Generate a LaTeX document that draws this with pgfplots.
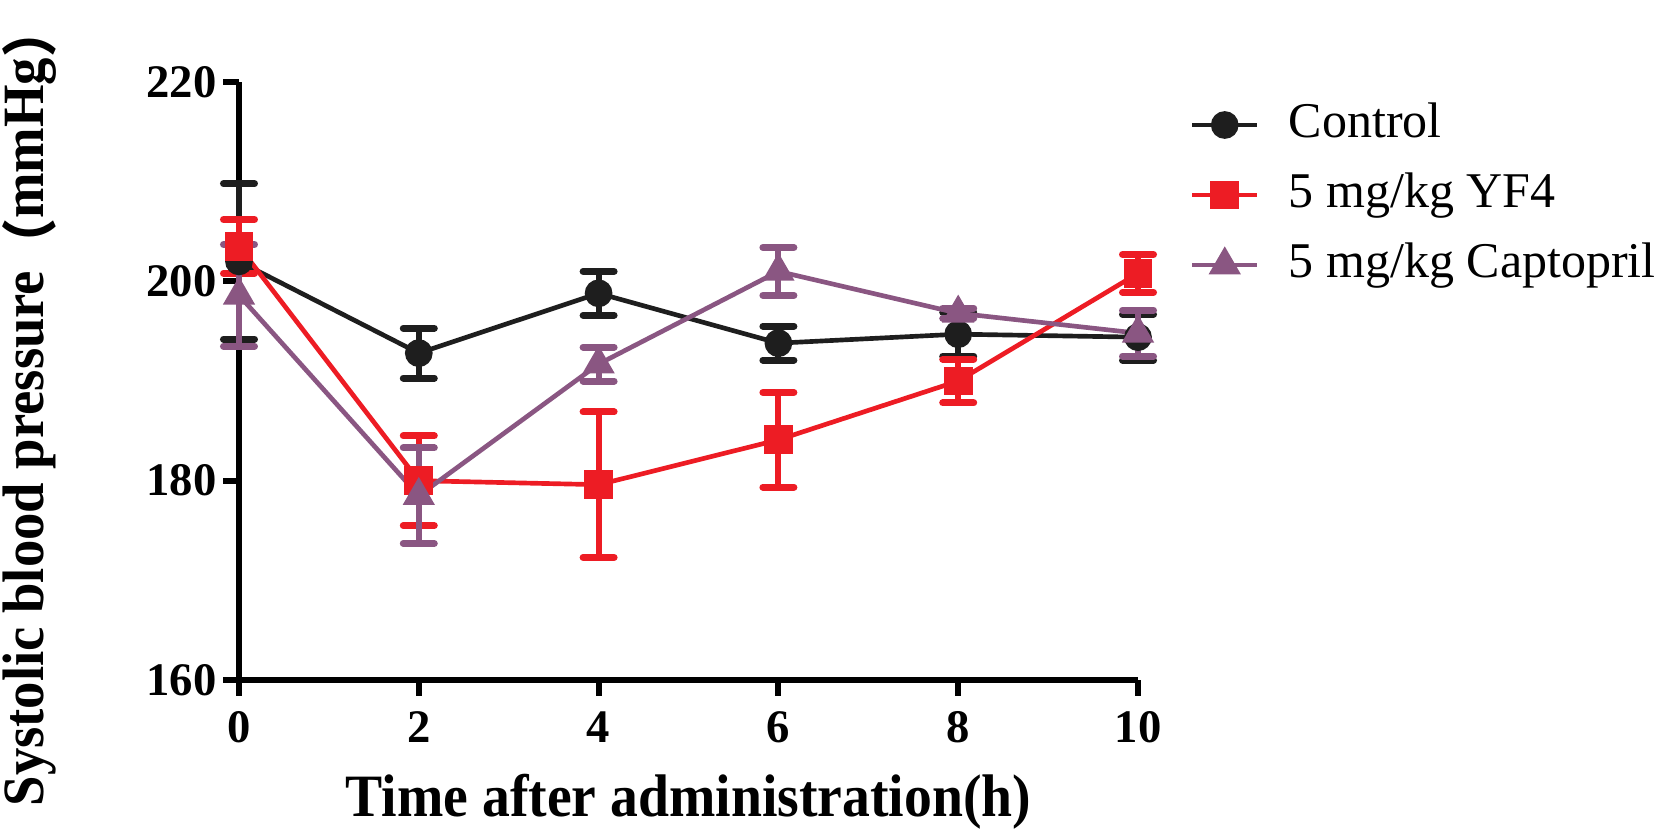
\documentclass[border=0pt]{standalone}
\usepackage{graphicx}
\usepackage{pgfplots}
\pgfplotsset{compat=1.18}
\usepackage{pgfplotstable}
\usepackage{fontspec}
\setmainfont{Liberation Serif}
\newfontfamily\cjk{Noto Sans CJK SC}
\newcommand{\cp}[1]{\raisebox{-2pt}{\scalebox{0.95}{\cjk #1}}}
\definecolor{cblack}{RGB}{30,30,30}
\definecolor{cred}{RGB}{237,28,36}
\definecolor{cpurple}{RGB}{138,86,130}

\pgfplotstableread{
x y e
0 202.0 7.8
2 192.8 2.5
4 198.8 2.2
6 193.8 1.7
8 194.7 2.2
10 194.4 2.3
}\control
\pgfplotstableread{
x y e
0 203.5 2.7
2 180.0 4.5
4 179.6 7.3
6 184.1 4.75
8 190.0 2.2
10 200.8 1.9
}\yff
\pgfplotstableread{
x y e
0 198.6 5.1
2 178.5 4.8
4 191.7 1.7
6 201.0 2.4
8 196.8 0.5
10 194.8 2.3
}\capto

\begin{document}
\begin{tikzpicture}
\useasboundingbox (-71.7pt,-46.2pt) rectangle ++(499.5pt,250.2pt);
\begin{axis}[
  at={(0,0)}, anchor=south west,
  scale only axis, width=269.7pt, height=179.4pt,
  xmin=0, xmax=10, ymin=160, ymax=220,
  clip=false,
  axis lines=left,
  axis line style={-, line width=1.8pt, black},
  xtick={0,2,4,6,8,10}, ytick={160,180,200,220},
  tick align=outside, major tick length=4.7pt,
  tick style={line width=1.8pt, black},
  /pgf/number format/assume math mode=true,
  ticklabel style={font=\fontsize{14}{16}\selectfont\bfseries},
  xticklabel style={yshift=-1.2pt},
  yticklabel style={xshift=1.5pt},
  xlabel={\scalebox{1}[1.08]{Time after administration(h)}},
  ylabel={\scalebox{1}[1.07]{Systolic blood pressure\cp{（}mmHg\cp{）}}},
  xlabel style={font=\fontsize{16.7}{19}\selectfont\bfseries, at={(rel axis cs:0.5,-0.229)}, anchor=base},
  ylabel style={font=\fontsize{16.4}{19}\selectfont\bfseries, at={(rel axis cs:-0.19,0.458)}, anchor=south},
  legend style={at={(rel axis cs:1.057,0.978)}, anchor=north west,
    draw=none, fill=none, font=\fontsize{15}{18}\selectfont,
    row sep=3.5pt, column sep=6.8pt, inner sep=0pt,
    nodes={inner sep=2pt, text height=10.5pt, text depth=3pt, anchor=west}},
  legend cell align=left,
  legend image code/.code={\draw[mark repeat=2, mark phase=2, #1] plot coordinates {(0pt,0pt) (9.75pt,0pt) (19.5pt,0pt)};},
  every axis plot/.append style={line width=1.4pt},
  error bars/error bar style={line width=1.8pt, solid},
  error bars/error mark options={rotate=90, mark size=4.65pt, line width=2.1pt, line cap=round},
]
\addplot[color=cblack, mark=*, mark size=3.45pt, mark options={solid, fill=cblack},
  error bars/.cd, y dir=both, y explicit]
  table[x=x, y=y, y error=e] {\control};
\addlegendentry{Control}
\addplot[color=cred, mark=square*, mark size=3.6pt, mark options={solid, fill=cred},
  error bars/.cd, y dir=both, y explicit]
  table[x=x, y=y, y error=e] {\yff};
\addlegendentry{5 mg/kg YF4}
\addplot[color=cpurple, mark=triangle*, mark size=4.2pt, mark options={solid, fill=cpurple},
  error bars/.cd, y dir=both, y explicit]
  table[x=x, y=y, y error=e] {\capto};
\addlegendentry{5 mg/kg Captopril}
\end{axis}
\end{tikzpicture}
\end{document}
